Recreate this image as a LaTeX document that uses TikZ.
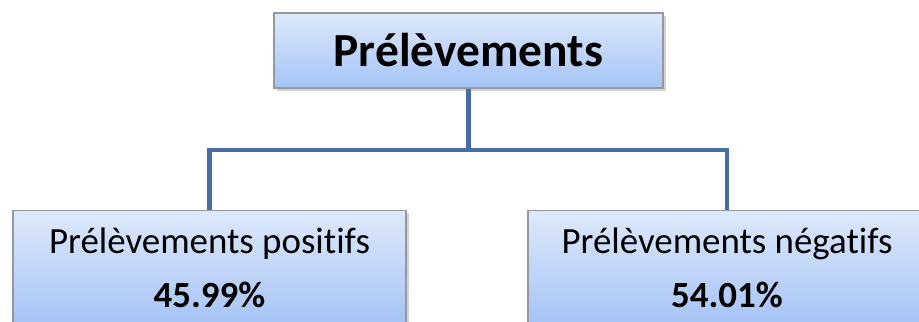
\documentclass[tikz,border=0pt]{standalone}
\usepackage{fontspec}
\setmainfont[Ligatures={NoCommon}]{Carlito}
\usetikzlibrary{shadows}
\definecolor{boxtop}{RGB}{222,233,251}
\definecolor{boxbot}{RGB}{164,195,245}
\definecolor{boxline}{RGB}{150,152,158}
\definecolor{linkcol}{RGB}{72,108,163}

\begin{document}
\begin{tikzpicture}[
	box/.style={draw=boxline, line width=0.6pt, top color=boxtop, bottom color=boxbot,
		drop shadow={shadow xshift=1.5pt, shadow yshift=-1.5pt, opacity=0.35}, inner sep=0pt},
	link/.style={draw=linkcol, line width=2.3pt}]
	\path[use as bounding box, clip] (0,0) rectangle (18.38,6.44);
	\node[box, minimum width=7.78cm, minimum height=1.5cm,
		font=\fontsize{27}{30}\selectfont\bfseries] (prel) at (9.37,5.43) {Prélèvements};
	\node[box, anchor=north, minimum width=7.86cm, minimum height=2.3cm, align=center,
		font=\fontsize{21}{31}\selectfont] (pos) at (4.19,2.24)
		{Prélèvements positifs\\\textbf{45.99\%}};
	\node[box, anchor=north, minimum width=7.96cm, minimum height=2.3cm, align=center,
		font=\fontsize{21}{31}\selectfont] (neg) at (14.54,2.24)
		{Prélèvements négatifs\\\textbf{54.01\%}};
	\coordinate (fork) at (9.37,3.44);
	\draw[link] (prel.south) -- (fork);
	\draw[link] (fork) -| (pos.north);
	\draw[link] (fork) -| (neg.north);
\end{tikzpicture}
\end{document}
